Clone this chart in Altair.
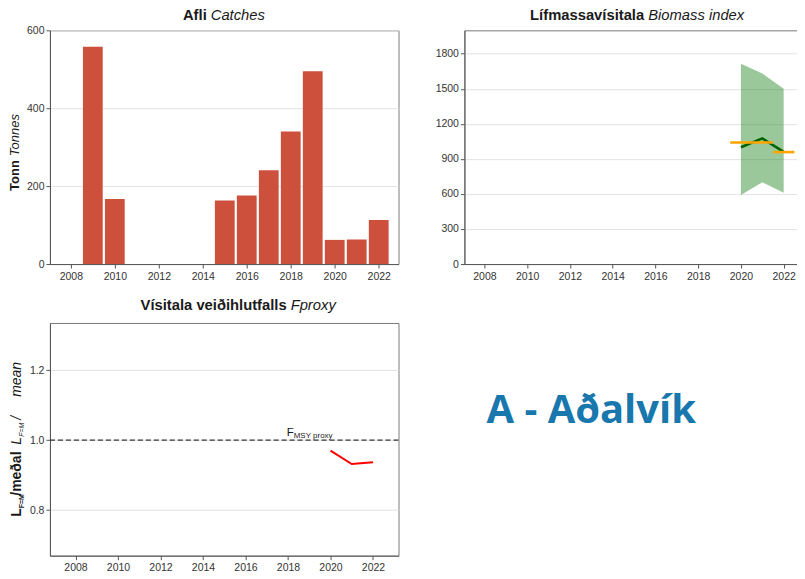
import altair as alt
import pandas as pd

# ---------------- data ----------------
catch_years = [2009, 2010, 2015, 2016, 2017, 2018, 2019, 2020, 2021, 2022]
catch_tonnes = [558, 167, 163, 176, 241, 340, 495, 62, 63, 113]

bio_years = [2020, 2021, 2022]
bio_index = [1000, 1075, 960]
bio_lower = [590, 700, 610]
bio_upper = [1715, 1630, 1500]

mean_start = [2019.5, 2021.5]
mean_end = [2021.5, 2022.5]
mean_value = [1040, 958]

f_years = [2020, 2021, 2022]
f_proxy = [0.970, 0.932, 0.937]
f_ref = [1.0]

x_ticks = [2008, 2010, 2012, 2014, 2016, 2018, 2020, 2022]

FONT = "Liberation Sans"
W1, W2, H = 349, 340, 234
TS = 14.8  # title font size


def txt(text, x, y, size, weight="normal", style="normal", align="left",
        angle=0, color="#1a1a1a", font=FONT, baseline="alphabetic"):
    return alt.Chart(alt.Data(values=[{}])).mark_text(
        text=text, fontSize=size, fontWeight=weight, fontStyle=style,
        align=align, angle=angle, color=color, font=font, baseline=baseline
    ).encode(x=alt.value(x), y=alt.value(y))


def xaxis():
    return alt.Axis(values=x_ticks, format="d", grid=False, title=None,
                    tickSize=4, labelPadding=3, tickCount=20)


# ---------------- panel 1: catches ----------------
df1 = pd.DataFrame({"year": catch_years, "catch": catch_tonnes})
bars = alt.Chart(df1).transform_calculate(
    x0="datum.year - 0.45", x1="datum.year + 0.45"
).mark_bar(color="#cd503c").encode(
    x=alt.X("x0:Q", scale=alt.Scale(domain=[2007.05, 2022.9], nice=False, zero=False), axis=xaxis()),
    x2="x1:Q",
    y=alt.Y("catch:Q", scale=alt.Scale(domain=[0, 600], nice=False),
            axis=alt.Axis(values=[0, 200, 400, 600], format="d", title=None, tickSize=4,
                          labelPadding=2, tickCount=20)),
    y2=alt.datum(0),
)
p1 = alt.layer(
    bars,
    txt("Afli", 157, -10, TS, weight="bold", align="right"),
    txt("Catches", 161, -10, TS, style="italic", align="left"),
    txt("Tonn", -31, 130, 13, weight="bold", align="right", angle=270),
    txt("Tonnes", -31, 126, 13, style="italic", align="left", angle=270),
).properties(width=W1, height=H)

# ---------------- panel 2: biomass index ----------------
df2 = pd.DataFrame({"year": bio_years, "idx": bio_index, "lo": bio_lower, "hi": bio_upper})
xs2 = alt.Scale(domain=[2007.065, 2022.95], nice=False, zero=False)
ys2 = alt.Scale(domain=[0, 2000], nice=False)
yax2 = alt.Axis(values=[0, 300, 600, 900, 1200, 1500, 1800], format="d", title=None,
                tickSize=4, labelPadding=2, tickCount=20)
band = alt.Chart(df2).mark_area(color="#2e8b2e", opacity=0.48).encode(
    x=alt.X("year:Q", scale=xs2, axis=xaxis()),
    y=alt.Y("lo:Q", scale=ys2, axis=yax2),
    y2="hi:Q",
)
line2 = alt.Chart(df2).mark_line(color="#006400", strokeWidth=2.6).encode(
    x=alt.X("year:Q", scale=xs2), y=alt.Y("idx:Q", scale=ys2)
)
df2m = pd.DataFrame({"s": mean_start, "e": mean_end, "m": mean_value})
means = alt.Chart(df2m).mark_rule(color="#ffa500", strokeWidth=2.6).encode(
    x=alt.X("s:Q", scale=xs2), x2="e:Q", y=alt.Y("m:Q", scale=ys2)
)
p2 = alt.layer(
    band, line2, means,
    txt("Lífmassavísitala", 180, -10, TS, weight="bold", align="right"),
    txt("Biomass index", 184, -10, TS, style="italic", align="left"),
).properties(width=W2, height=H)

# ---------------- panel 3: F proxy ----------------
df3 = pd.DataFrame({"year": f_years, "f": f_proxy})
xs3 = alt.Scale(domain=[2006.8, 2023.2], nice=False, zero=False)
ys3 = alt.Scale(domain=[0.67, 1.335], nice=False, zero=False)
ref = alt.Chart(pd.DataFrame({"r": f_ref})).mark_rule(
    color="#333333", strokeDash=[5, 3], strokeWidth=1.2
).encode(y=alt.Y("r:Q", scale=ys3))
fline = alt.Chart(df3).mark_line(color="#ff0000", strokeWidth=2).encode(
    x=alt.X("year:Q", scale=xs3, axis=xaxis()),
    y=alt.Y("f:Q", scale=ys3,
            axis=alt.Axis(values=[0.8, 1.0, 1.2], format=".1f", title=None, tickSize=4,
                          labelPadding=2, tickCount=20)),
)
lab_main = alt.Chart(alt.Data(values=[{"x": 2017.94, "y": 1.021}])).mark_text(
    text="F", fontSize=11.5, align="left", font=FONT, color="#1a1a1a"
).encode(x=alt.X("x:Q", scale=xs3), y=alt.Y("y:Q", scale=ys3))
lab_sub = alt.Chart(alt.Data(values=[{"x": 2018.27, "y": 1.0125}])).mark_text(
    text="MSY proxy", fontSize=8, align="left", font=FONT, color="#1a1a1a"
).encode(x=alt.X("x:Q", scale=xs3), y=alt.Y("y:Q", scale=ys3))

YT = -29
p3 = alt.layer(
    ref, fline, lab_main, lab_sub,
    txt("Vísitala veiðihlutfalls", 237, -13, TS, weight="bold", align="right"),
    txt("Fproxy", 241, -13, TS, style="italic", align="left"),
    # y-axis title pieces, rotated
    txt("L", YT, 194, 14, weight="bold", angle=270),
    txt("F=M", YT + 3, 185.5, 7, weight="bold", angle=270),
    txt("/meðal", YT, 173, 14, weight="bold", angle=270),
    txt("L", YT, 122, 14, style="italic", angle=270),
    txt("F=M", YT + 3, 114, 7, style="italic", angle=270),
    txt("/", YT, 97, 14, style="italic", angle=270),
    txt("mean", YT, 74, 14, style="italic", angle=270),
    txt("A - Aðalvík", 542, 100, 40, weight="bold", align="center",
        color="#1878ad", font="Open Sans"),
).properties(width=W1, height=233)

chart = alt.concat(
    p1, p2, p3, columns=2, spacing={"row": 59, "column": 66}, bounds="flush"
).properties(
    padding={"left": 0, "top": -1, "right": -8, "bottom": 0}
).configure_view(
    stroke="#7a7a7a", strokeWidth=1
).configure_axis(
    domainColor="#555555", tickColor="#555555", labelColor="#333333",
    labelFont=FONT, labelFontSize=10.5, gridColor="#e2e2e2", domainWidth=1,
    labelOverlap=False
)

chart.save("out.html", embed_options={"renderer": "svg", "actions": False})
